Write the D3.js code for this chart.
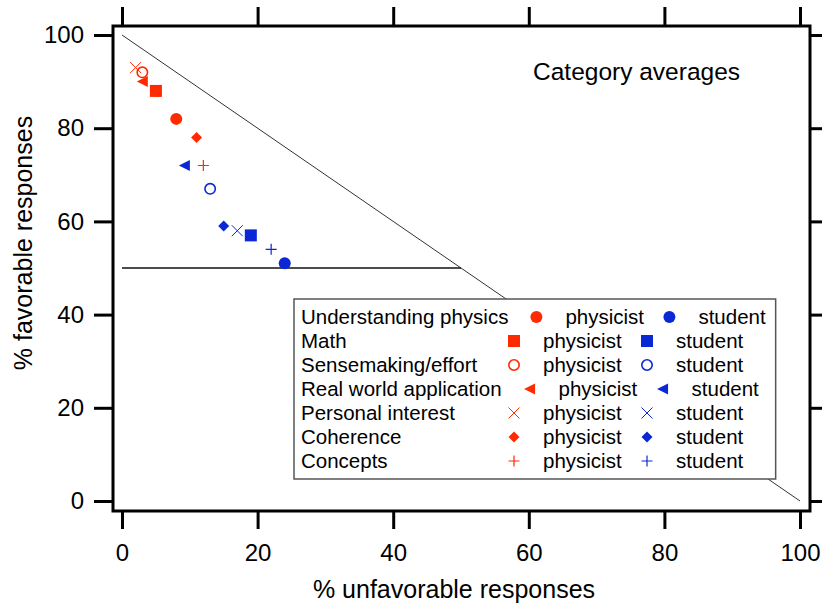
<!DOCTYPE html>
<html>
<head>
<meta charset="utf-8">
<script src="https://cdn.jsdelivr.net/npm/d3@7"></script>
<style>
  body { margin: 0; background: #fff; }
  text { font-family: "Liberation Sans", Arial, sans-serif; fill: #000; }
</style>
</head>
<body>
<div id="chart"></div>
<script>
var width = 822;
var height = 607;

// category averages, % unfavorable (x) and % favorable (y)
const categories = ["Understanding physics", "Math", "Sensemaking/effort", "Real world application",
    "Personal interest", "Coherence", "Concepts"];
const markerKinds = ["circle", "square", "circleOpen", "triLeft", "cross", "diamond", "plus"];
const physUnfav = [8, 5, 3, 3, 2, 11, 12];
const physFav = [82, 88, 92, 90, 93, 78, 72];
const studUnfav = [24, 19, 13, 9.2, 17, 15, 22];
const studFav = [51, 57, 67, 72, 58, 59, 54];
const groups = ["physicist", "student"];
const tickVals = [0, 20, 40, 60, 80, 100];

const red = "#ff2a00";
const blue = "#0a28d6";

const svg = d3.select("#chart").append("svg")
    .attr("width", width)
    .attr("height", height);

const x = d3.scaleLinear().domain([0, 100]).range([122, 800]);
const y = d3.scaleLinear().domain([0, 100]).range([501, 35]);

// frame box
const frame = { left: 113, top: 26, right: 810, bottom: 511 };

// reference lines
svg.append("line")
    .attr("x1", x(0)).attr("y1", y(100))
    .attr("x2", x(100)).attr("y2", y(0))
    .attr("stroke", "#333").attr("stroke-width", 1);
svg.append("line")
    .attr("x1", x(0)).attr("y1", y(50))
    .attr("x2", x(50)).attr("y2", y(50))
    .attr("stroke", "#111").attr("stroke-width", 1.3);

// axes
function styleAxis(g) {
    g.select(".domain").remove();
    g.selectAll(".tick line").attr("stroke", "#000").attr("stroke-width", 3);
    g.selectAll(".tick text").attr("font-size", 24).attr("font-family", "Liberation Sans, Arial, sans-serif");
}
svg.append("g").attr("transform", `translate(${frame.left},0)`)
    .call(d3.axisLeft(y).tickValues(tickVals).tickSize(19).tickPadding(10))
    .call(styleAxis);
svg.append("g").attr("transform", `translate(0,${frame.bottom})`)
    .call(d3.axisBottom(x).tickValues(tickVals).tickSize(18).tickPadding(15))
    .call(styleAxis);
svg.append("g").attr("transform", `translate(0,${frame.top})`)
    .call(d3.axisTop(x).tickValues(tickVals).tickSize(19).tickFormat(""))
    .call(styleAxis);
svg.append("g").attr("transform", `translate(${frame.right},0)`)
    .call(d3.axisRight(y).tickValues(tickVals).tickSize(14).tickFormat(""))
    .call(styleAxis);

svg.append("rect")
    .attr("x", frame.left).attr("y", frame.top)
    .attr("width", frame.right - frame.left).attr("height", frame.bottom - frame.top)
    .attr("fill", "none").attr("stroke", "#000").attr("stroke-width", 3);

// axis titles
svg.append("text")
    .attr("x", 454).attr("y", 598)
    .attr("text-anchor", "middle").attr("font-size", 25)
    .text("% unfavorable responses");
svg.append("text")
    .attr("transform", "translate(32,243) rotate(-90)")
    .attr("text-anchor", "middle").attr("font-size", 25)
    .text("% favorable responses");

svg.append("text")
    .attr("x", 533).attr("y", 80)
    .attr("font-size", 24.5)
    .text("Category averages");

// marker drawing
function drawMarker(g, kind, color, cx, cy) {
    const r = 6;
    if (kind == "circle") {
        g.append("circle").attr("cx", cx).attr("cy", cy).attr("r", r).attr("fill", color);
    } else if (kind == "circleOpen") {
        g.append("circle").attr("cx", cx).attr("cy", cy).attr("r", r - 0.8)
            .attr("fill", "#fff").attr("stroke", color).attr("stroke-width", 1.6);
    } else if (kind == "square") {
        g.append("rect").attr("x", cx - r).attr("y", cy - r).attr("width", 2 * r).attr("height", 2 * r)
            .attr("fill", color);
    } else if (kind == "diamond") {
        g.append("path")
            .attr("d", `M${cx},${cy - 5.5}L${cx + 5.5},${cy}L${cx},${cy + 5.5}L${cx - 5.5},${cy}Z`)
            .attr("fill", color);
    } else if (kind == "triLeft") {
        g.append("path")
            .attr("d", `M${cx - 5.5},${cy}L${cx + 5.5},${cy - 5.5}L${cx + 5.5},${cy + 5.5}Z`)
            .attr("fill", color);
    } else if (kind == "cross") {
        g.append("path")
            .attr("d", `M${cx - 5.5},${cy - 5.5}L${cx + 5.5},${cy + 5.5}M${cx + 5.5},${cy - 5.5}L${cx - 5.5},${cy + 5.5}`)
            .attr("stroke", color).attr("stroke-width", 1).attr("fill", "none");
    } else if (kind == "plus") {
        g.append("path")
            .attr("d", `M${cx - 5.5},${cy}L${cx + 5.5},${cy}M${cx},${cy - 5.5}L${cx},${cy + 5.5}`)
            .attr("stroke", color).attr("stroke-width", 1.2).attr("fill", "none");
    }
}

// data points
const pts = svg.append("g");
categories.forEach((c, i) => {
    drawMarker(pts, markerKinds[i], red, x(physUnfav[i]), y(physFav[i]));
});
categories.forEach((c, i) => {
    drawMarker(pts, markerKinds[i], blue, x(studUnfav[i]), y(studFav[i]));
});

// legend
const leg = svg.append("g");
const legBox = leg.append("rect")
    .attr("fill", "#fff").attr("stroke", "#555").attr("stroke-width", 1.5);
const legLeft = 294, legTop = 299, rowH = 24, firstRow = 317, tabStop = 514;
let legRight = 0;
categories.forEach((c, i) => {
    const cy = firstRow + i * rowH;
    const t = leg.append("text")
        .attr("x", legLeft + 7).attr("y", cy).attr("dy", "0.35em")
        .attr("font-size", 20.5).text(c);
    const end = legLeft + 7 + t.node().getComputedTextLength();
    const mx = Math.max(tabStop, end + 28);
    drawMarker(leg, markerKinds[i], red, mx, cy);
    leg.append("text").attr("x", mx + 29).attr("y", cy).attr("dy", "0.35em")
        .attr("font-size", 20.5).text(groups[0]);
    drawMarker(leg, markerKinds[i], blue, mx + 133, cy);
    const st = leg.append("text").attr("x", mx + 162).attr("y", cy).attr("dy", "0.35em")
        .attr("font-size", 20.5).text(groups[1]);
    legRight = Math.max(legRight, mx + 162 + st.node().getComputedTextLength());
});
legBox.attr("x", legLeft).attr("y", legTop)
    .attr("width", legRight + 10 - legLeft)
    .attr("height", firstRow + (categories.length - 1) * rowH + 18 - legTop);
</script>
</body>
</html>
